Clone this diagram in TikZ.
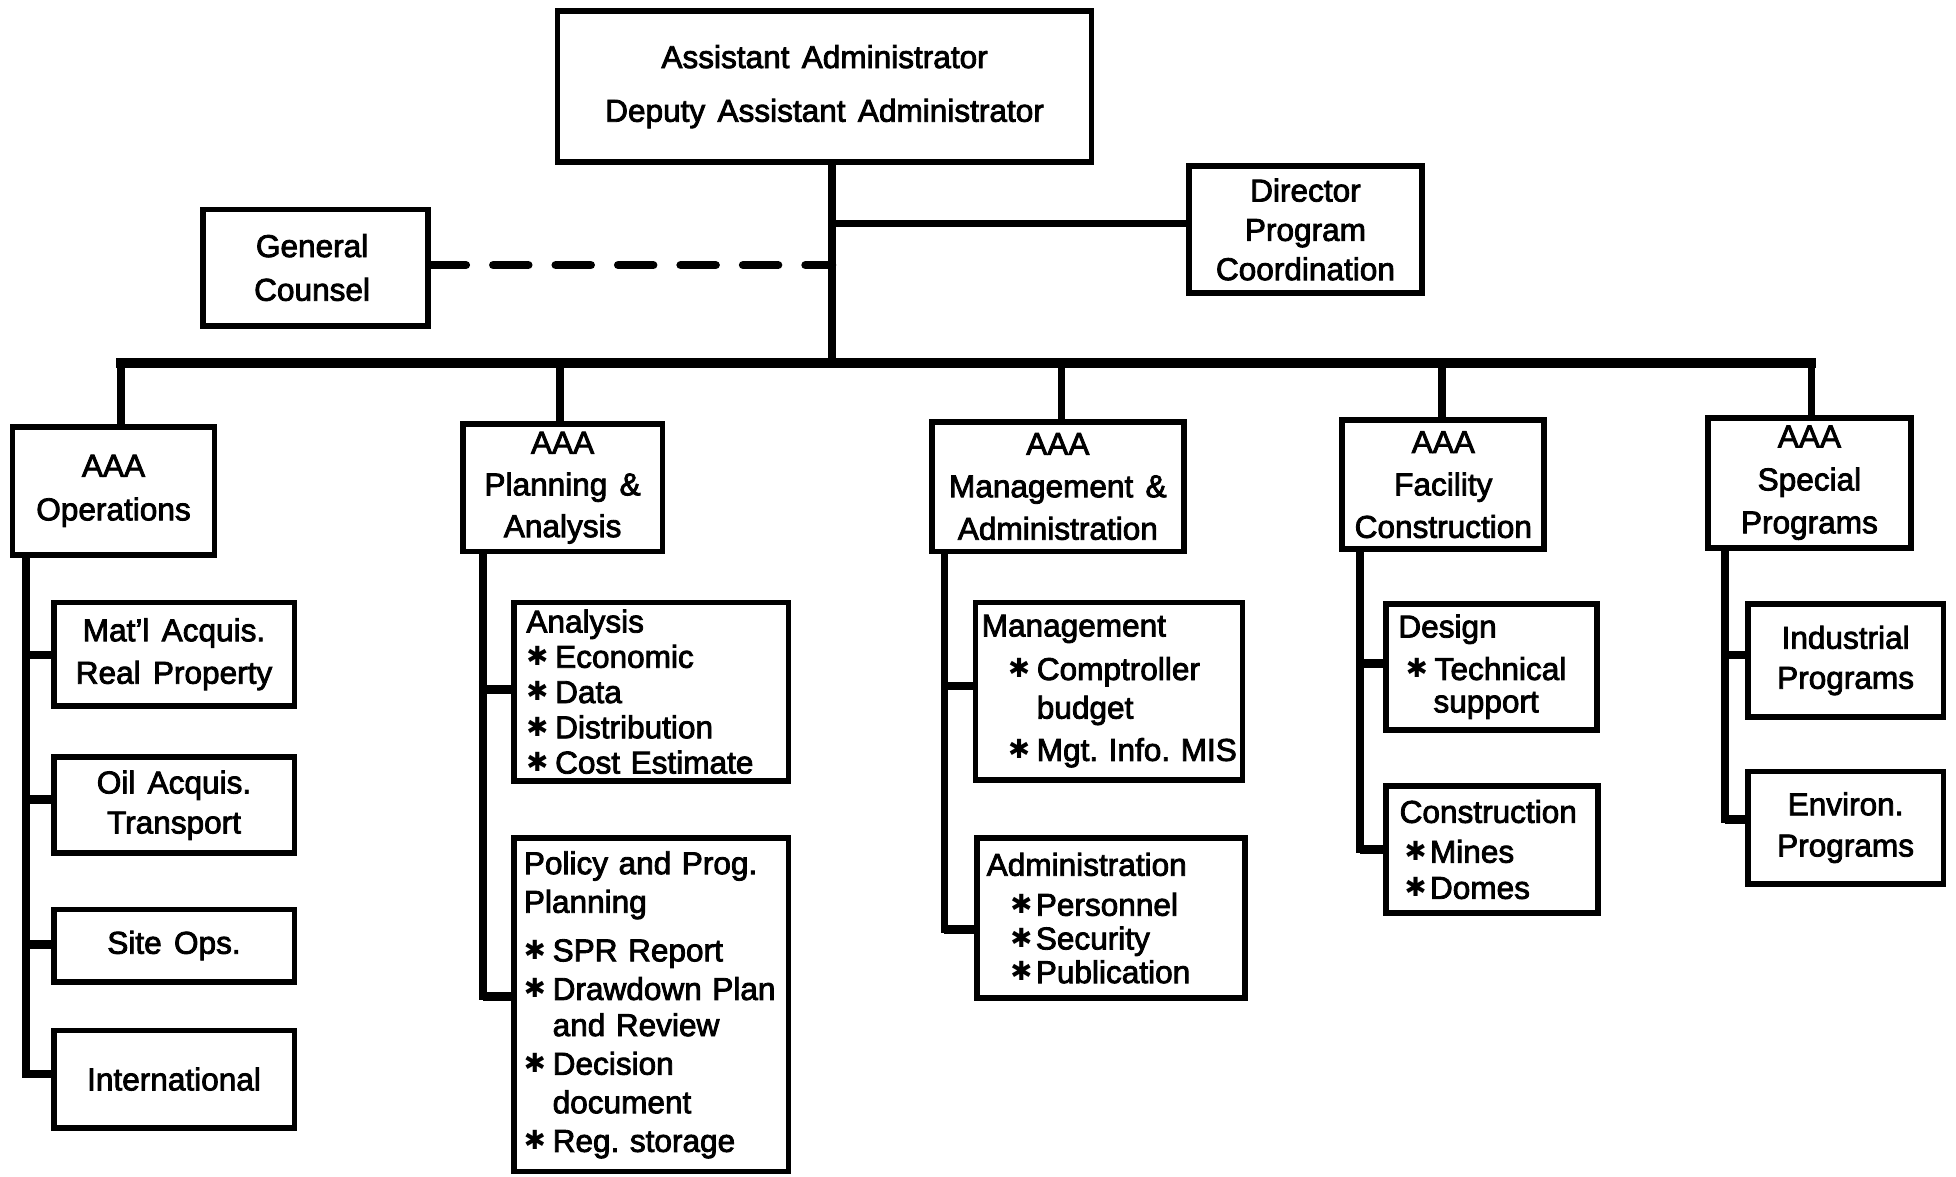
\documentclass[tikz,border=0pt]{standalone}
\usepackage{fontspec}
\setmainfont{Liberation Sans}[WordSpace=1.4,FakeBold=2.6]
\newfontfamily\dvs{DejaVu Sans}
\usetikzlibrary{calc}
\newcommand\stb{\makebox[16.4pt][l]{\raisebox{1.2pt}{\dvs\fontsize{15}{15}\selectfont ✱}}}
\newcommand\stc{\makebox[14.5pt][l]{\raisebox{1.2pt}{\dvs\fontsize{15}{15}\selectfont ✱}}}
\newcommand\fsz[1]{\fontsize{18pt}{#1pt}\selectfont}
\begin{document}
\begin{tikzpicture}[x=0.025cm,y=-0.025cm,
  box/.style={draw, line width=3.3pt, inner sep=0pt, align=center},
  lbox/.style={draw, line width=3.3pt, inner ysep=0pt, align=left},
  conn/.style={line width=4.3pt},
  busline/.style={line width=5.5pt, line cap=rect},
  spine/.style={line width=4.3pt, line join=miter},
  stub/.style={line width=5pt},
  dashline/.style={line width=4.8pt, line cap=round, dash pattern=on 20pt off 15.6pt}]
\useasboundingbox (0,0) rectangle (1568,943);

% top level
\node[box, minimum width=10.7cm, minimum height=3.025cm, font={\fsz{30.6}}] (top) at (661,69.5)
  {Assistant Administrator\\Deputy Assistant Administrator};
\node[box, minimum width=4.675cm, minimum height=2.55cm, font={\fsz{22.4}}] (dir) at (1046.5,184)
  {Director\\Program\\Coordination};
\node[box, minimum width=4.5cm, minimum height=2.325cm, font={\fsz{24.9}}] (gc) at (253,214.5)
  {General\hspace*{4pt}\\Counsel\hspace*{4pt}};

% second level
\node[box, minimum width=4.05cm, minimum height=2.575cm, font={\fsz{24.9}}] (ops) at (91,393.5)
  {AAA\\Operations};
\node[box, minimum width=4.0cm, minimum height=2.55cm, font={\fsz{23.8}}] (plan) at (451,391)
  {AAA\\Planning \&\\Analysis};
\node[box, minimum width=5.05cm, minimum height=2.6cm, font={\fsz{24.2}}] (mgmt) at (848,390)
  {AAA\\Management \&\\Administration};
\node[box, minimum width=4.05cm, minimum height=2.575cm, font={\fsz{24.2}}] (fac) at (1157,388.5)
  {AAA\\Facility\\Construction};
\node[box, minimum width=4.075cm, minimum height=2.6cm, font={\fsz{24.5}}] (spec) at (1450.5,387)
  {AAA\\Special\\Programs};

% operations column
\node[box, minimum width=4.825cm, minimum height=2.075cm, font={\fsz{24.2}}] (matl) at (139.5,524.5)
  {Mat'l Acquis.\\Real Property};
\node[box, minimum width=4.825cm, minimum height=1.925cm, font={\fsz{22.8}}] (oil) at (139.5,645.5)
  {Oil Acquis.\\Transport};
\node[box, minimum width=4.825cm, minimum height=1.45cm, font={\fsz{22}}] (site) at (139.5,758)
  {Site Ops.};
\node[box, minimum width=4.825cm, minimum height=1.95cm, font={\fsz{22}}] (intl) at (139.5,865)
  {International};

% planning column
\node[lbox, inner xsep=0.25cm, text width=5.0cm, minimum height=3.575cm, font={\fsz{20.1}}] (ana) at (522,554.5)
  {Analysis\\\stb Economic\\\stb Data\\\stb Distribution\\\stb Cost~Estimate};
\node[lbox, inner xsep=0.2cm, text width=5.1cm, minimum height=6.675cm, font={\fsz{22}}] (pol) at (522,805.5)
  {Policy~and~Prog.\\Planning\\[5.7pt]\stb SPR~Report\\\stb Drawdown~Plan\\[-1.4pt]\hspace*{16.4pt}and~Review\\\stb Decision\\\hspace*{16.4pt}document\\\stb Reg.~storage};

% management column
\node[lbox, inner xsep=0.125cm, text width=5.1cm, minimum height=3.55cm, font={\fsz{22}}] (man) at (889,554)
  {Management\\[2.8pt]\hspace*{15pt}\stb Comptroller\\\hspace*{31.4pt}budget\\[2.1pt]\hspace*{15pt}\stb Mgt.~Info.~MIS};
\node[lbox, inner xsep=0.2cm, text width=4.975cm, minimum height=3.2cm, font={\fsz{19.2}}] (adm) at (890.5,736)
  {Administration\\[3.6pt]\hspace*{13.5pt}\stc Personnel\\\hspace*{13.5pt}\stc Security\\\hspace*{13.5pt}\stc Publication};

% facility column
\node[lbox, inner xsep=0.25cm, text width=3.725cm, minimum height=2.525cm, font={\fsz{18.5}}] (des) at (1195.5,534.5)
  {Design\\[5.7pt]\hspace*{4.3pt}\stb Technical\\\hspace*{20pt}support};
\node[lbox, inner xsep=0.275cm, text width=3.7cm, minimum height=2.55cm, font={\fsz{20.6}}] (con) at (1196,681)
  {Construction\\[2.1pt]\hspace*{2.8pt}\stc Mines\\\hspace*{2.8pt}\stc Domes};

% special column
\node[box, minimum width=3.925cm, minimum height=2.275cm, font={\fsz{22.8}}] (ind) at (1479.5,529.5)
  {Industrial\\Programs};
\node[box, minimum width=3.925cm, minimum height=2.25cm, font={\fsz{23.5}}] (env) at (1479.5,663.5)
  {Environ.\\Programs};

% bus and top connectors
\coordinate (b0) at (667,291);
\coordinate (b1) at (97,291);
\coordinate (b2) at (449,291);
\coordinate (b3) at (851,291);
\coordinate (b4) at (1156,291);
\coordinate (b5) at (1452,291);
\draw[conn] (top.south -| b0) -- (b0);
\path ($(dir.west)+(0,-5)$) coordinate (dj);
\draw[conn] (dj) -- (dj -| b0);
\path ($(gc.east)+(0,-2)$) coordinate (gj);
\draw[dashline] (gj) -- (gj -| b0);
\draw[busline] (b1) -- (b5);
\draw[conn] (b1) -- (b1 |- ops.north);
\draw[conn] (b2) -- (b2 |- plan.north);
\draw[conn] (b3) -- (b3 |- mgmt.north);
\draw[conn] (b4) -- (b4 |- fac.north);
\draw[conn] (b5) -- (b5 |- spec.north);

% spine x positions
\coordinate (s1) at (21,0);
\coordinate (s2) at (387,0);
\coordinate (s3) at (757,0);
\coordinate (s4) at (1090,0);
\coordinate (s5) at (1383,0);

% stub end points
\path ($(matl.west)+(0,0.5)$) coordinate (e11)
      ($(oil.west)+(0,-4.5)$) coordinate (e12)
      ($(site.west)+(0,-1)$) coordinate (e13)
      ($(intl.west)+(0,-4)$) coordinate (e14)
      ($(ana.west)+(0,-1.5)$) coordinate (e21)
      ($(pol.west)+(0,-6.5)$) coordinate (e22)
      ($(man.west)+(0,-4)$) coordinate (e31)
      ($(adm.west)+(0,9)$) coordinate (e32)
      ($(des.west)+(0,-2.5)$) coordinate (e41)
      ($(con.west)+(0,0)$) coordinate (e42)
      ($(ind.west)+(0,-4.5)$) coordinate (e51)
      ($(env.west)+(0,-6.5)$) coordinate (e52);

\draw[spine] (ops.south -| s1) -- (e14 -| s1) -- (e14);
\draw[spine] (plan.south -| s2) -- (e22 -| s2) -- (e22);
\draw[spine] (mgmt.south -| s3) -- (e32 -| s3) -- (e32);
\draw[spine] (fac.south -| s4) -- (e42 -| s4) -- (e42);
\draw[spine] (spec.south -| s5) -- (e52 -| s5) -- (e52);

\foreach \e/\s in {e11/s1,e12/s1,e13/s1,e14/s1,e21/s2,e22/s2,e31/s3,e32/s3,e41/s4,e42/s4,e51/s5,e52/s5}
  \draw[stub] (\e -| \s) -- (\e);
\end{tikzpicture}
\end{document}
